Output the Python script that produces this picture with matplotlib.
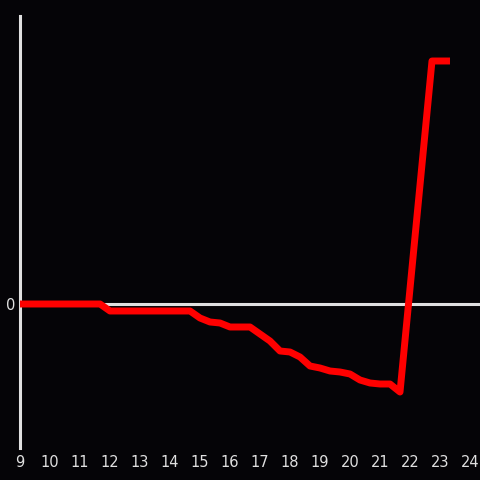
import numpy as np
import matplotlib.pyplot as plt

# hour of day vs. change (arbitrary units)
hours = [9.0, 9.333, 9.667, 10.0, 10.333, 10.667, 11.0, 11.333, 11.667,
         12.0, 12.333, 12.667, 13.0, 13.333, 13.667, 14.0, 14.333, 14.667,
         15.0, 15.333, 15.667, 16.0, 16.333, 16.667, 17.0, 17.333, 17.667,
         18.0, 18.333, 18.667, 19.0, 19.333, 19.667, 20.0, 20.333, 20.667,
         21.0, 21.333, 21.667, 22.733, 23.333]
values = [0, 0, 0, 0, 0, 0, 0, 0, 0,
          -7, -7, -7, -7, -7, -7, -7, -7, -7,
          -14, -18, -19, -23, -23, -23, -30, -37, -47,
          -48, -53, -62, -64, -67, -68, -70, -76, -79,
          -80, -80, -88, 243, 243]
xticks = list(range(9, 25))

bg = '#050407'
fg = '#e0e0e0'

fig = plt.figure(figsize=(4.8, 4.8), dpi=100, facecolor=bg)
ax = fig.add_axes([20/480, 32/480, 460/480, 432/480])
ax.set_facecolor(bg)

ax.axhline(0, color=fg, lw=2.2, zorder=1)
ax.plot(hours, values, color='#ff0000', lw=5, solid_joinstyle='round',
        solid_capstyle='butt', zorder=3)

ax.set_xlim(9, 9 + 460/30)
ax.set_ylim(-144, 288)

for s in ['top', 'right', 'bottom']:
    ax.spines[s].set_visible(False)
ax.spines['left'].set_color(fg)
ax.spines['left'].set_linewidth(2.2)

ax.set_xticks(xticks)
ax.set_xticklabels([str(t) for t in xticks])
ax.set_yticks([0])
ax.set_yticklabels(['0'])
ax.tick_params(length=0, colors=fg, labelsize=10.5)
ax.tick_params(axis='x', pad=5)
ax.tick_params(axis='y', pad=3)

fig.savefig('out.png', dpi=100, facecolor=bg)
